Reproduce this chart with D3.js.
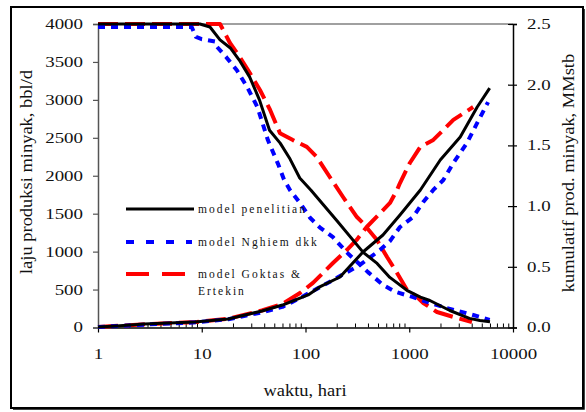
<!DOCTYPE html>
<html>
<head>
<meta charset="utf-8">
<script src="https://cdn.jsdelivr.net/npm/d3@7"></script>
<style>
body { margin: 0; background: #fff; }
text { font-family: 'Liberation Serif', 'Times New Roman', serif; fill: #111; }
</style>
</head>
<body>
<script>
// x ticks (hari) and y ticks
const dayTicks = [1, 10, 100, 1000, 10000];
const rateTicks = [0, 500, 1000, 1500, 2000, 2500, 3000, 3500, 4000];
const cumTicks = [0, 0.5, 1.0, 1.5, 2.0, 2.5];

// model penelitian
const penelitianRateDays = [1, 9.6, 12, 15, 19, 23, 29, 36, 45, 57, 71, 88, 113, 200, 360, 490, 650, 950, 1280, 1580, 2460, 3800, 4800, 6000];
const penelitianRate = [4000, 4000, 3960, 3790, 3680, 3525, 3300, 3000, 2600, 2430, 2220, 1970, 1810, 1410, 990, 845, 660, 490, 400, 356, 224, 120, 92, 75];
const penelitianCumDays = [1, 1.5, 2.8, 8.6, 18, 38, 60, 106, 137, 215, 358, 558, 814, 1280, 1990, 3100, 4520, 5960];
const penelitianCum = [0.004, 0.012, 0.029, 0.045, 0.07, 0.136, 0.185, 0.268, 0.334, 0.416, 0.622, 0.762, 0.927, 1.133, 1.38, 1.569, 1.816, 1.972];

// model Nghiem dkk
const nghiemRateDays = [1, 8, 8.8, 10, 13.4, 14, 17.3, 21.8, 27.4, 34.5, 43.4, 54.6, 62, 71, 88.5, 110, 137, 184, 250, 400, 560, 735, 1090, 1580, 2300, 4130, 5960];
const nghiemRate = [3960, 3960, 3830, 3800, 3770, 3700, 3560, 3390, 3170, 2900, 2470, 2150, 1950, 1810, 1640, 1450, 1320, 1190, 990, 730, 560, 470, 400, 323, 257, 165, 100];
const nghiemCumDays = [1, 3, 9, 18, 38, 60, 88.5, 184, 334, 522, 652, 814, 1090, 1365, 1705, 2130, 2660, 3600, 4520, 5750];
const nghiemCum = [0.004, 0.025, 0.043, 0.068, 0.125, 0.17, 0.243, 0.391, 0.515, 0.638, 0.712, 0.828, 0.91, 1.034, 1.133, 1.215, 1.355, 1.52, 1.685, 1.857];

// model Goktas & Ertekin
const goktasRateDays = [1, 15, 18.7, 23.4, 29.2, 36.4, 45.5, 56.8, 75.6, 103, 128, 172, 230, 313, 358, 489, 611, 763, 953, 1190, 1365, 1850, 2880, 4020];
const goktasRate = [4000, 4000, 3750, 3560, 3350, 3130, 2870, 2560, 2470, 2380, 2250, 1980, 1720, 1456, 1377, 1153, 929, 718, 494, 402, 323, 204, 125, 72];
const goktasCumDays = [1, 3, 9, 18, 38, 60, 88.5, 118, 184, 250, 311, 389, 522, 652, 763, 814, 1013, 1276, 1705, 2130, 2660, 4130];
const goktasCum = [0.004, 0.028, 0.046, 0.073, 0.14, 0.195, 0.284, 0.367, 0.531, 0.638, 0.721, 0.828, 0.94, 1.026, 1.133, 1.19, 1.355, 1.487, 1.545, 1.627, 1.71, 1.816];

const legendLabels = ['model penelitian', 'model Nghiem dkk', ['model Goktas &', 'Ertekin']];

const chartWidth = 586;
const chartHeight = 412;
const plotLeft = 98, plotRight = 513, plotTop = 24, plotBottom = 327.5;

const chart = d3.select('body')
    .append('svg')
    .attr('width', chartWidth)
    .attr('height', chartHeight);

const x = d3.scaleLog().domain([1, 10000]).range([plotLeft, plotRight]);
const yRate = d3.scaleLinear().domain([0, 4000]).range([plotBottom, plotTop]);
const yCum = d3.scaleLinear().domain([0, 2.5]).range([plotBottom, plotTop]);

const black = { color: '#000', width: 3, dash: null };
const blue = { color: '#0000ff', width: 4, dash: '7,6' };
const red = { color: '#ff0000', width: 4, dash: '20,7' };

const series = [
    { days: goktasRateDays, vals: goktasRate, y: yRate, style: red },
    { days: goktasCumDays, vals: goktasCum, y: yCum, style: red },
    { days: nghiemRateDays, vals: nghiemRate, y: yRate, style: blue },
    { days: nghiemCumDays, vals: nghiemCum, y: yCum, style: blue },
    { days: penelitianRateDays, vals: penelitianRate, y: yRate, style: black },
    { days: penelitianCumDays, vals: penelitianCum, y: yCum, style: black },
];

// frame
chart.append('rect')
    .attr('x', 11).attr('y', 7)
    .attr('width', 572).attr('height', 401)
    .attr('fill', 'none')
    .attr('stroke', '#000')
    .attr('stroke-width', 2);
chart.append('path')
    .attr('d', 'M584.5,9V409.5H13')
    .attr('fill', 'none')
    .attr('stroke', '#444')
    .attr('stroke-width', 1);

// top border of plot
chart.append('line')
    .attr('x1', plotLeft).attr('x2', plotRight)
    .attr('y1', plotTop).attr('y2', plotTop)
    .attr('stroke', '#808080')
    .attr('stroke-width', 1.5);

const stretch = 1.35;

// left axis
const gLeft = chart.append('g')
    .attr('transform', `translate(${plotLeft},0)`)
    .call(d3.axisLeft(yRate).tickValues(rateTicks).tickSize(5).tickFormat(d3.format('d')));
gLeft.select('.domain').attr('stroke', '#555').attr('stroke-width', 1.5);
gLeft.selectAll('.tick line').attr('stroke', '#555').attr('stroke-width', 1.2);
gLeft.selectAll('.tick text')
    .attr('x', 0)
    .attr('transform', `translate(-15,0) scale(${stretch},1)`)
    .attr('font-size', 14);
gLeft.attr('font-family', null);

// right axis
const gRight = chart.append('g')
    .attr('transform', `translate(${plotRight},0)`)
    .call(d3.axisRight(yCum).tickValues(cumTicks).tickSize(4).tickFormat(d3.format('.1f')));
gRight.select('.domain').attr('stroke', '#000').attr('stroke-width', 1.5);
gRight.selectAll('.tick line').attr('x1', -5).attr('stroke-width', 1.2);
gRight.selectAll('.tick text')
    .attr('x', 0)
    .attr('transform', `translate(14,0) scale(${stretch},1)`)
    .attr('font-size', 14);
gRight.attr('font-family', null);

// bottom axis: minor ticks point up, major ticks down
const minorTicks = x.ticks().filter(d => !dayTicks.includes(d));
const gMinor = chart.append('g')
    .attr('transform', `translate(0,${plotBottom})`)
    .call(d3.axisBottom(x).tickValues(minorTicks).tickSize(-4).tickFormat(''));
gMinor.select('.domain').remove();
gMinor.selectAll('.tick line').attr('stroke-width', 1);

const gBottom = chart.append('g')
    .attr('transform', `translate(0,${plotBottom})`)
    .call(d3.axisBottom(x).tickValues(dayTicks).tickSize(5).tickSizeOuter(0).tickFormat(d3.format('d')));
gBottom.select('.domain').attr('stroke', '#000').attr('stroke-width', 1.5);
gBottom.selectAll('.tick line').attr('stroke-width', 1.2);
gBottom.selectAll('.tick text')
    .attr('y', 0)
    .attr('transform', `translate(0,22) scale(${stretch},1)`)
    .attr('font-size', 14);
gBottom.attr('font-family', null);

// axis titles
chart.append('text')
    .attr('transform', 'translate(305,396) scale(1.12,1)')
    .attr('text-anchor', 'middle')
    .attr('font-size', 16.5)
    .text('waktu, hari');
chart.append('text')
    .attr('transform', 'translate(32,172) rotate(-90) scale(1.12,1)')
    .attr('text-anchor', 'middle')
    .attr('font-size', 16.5)
    .text('laju produksi minyak, bbl/d');
chart.append('text')
    .attr('transform', 'translate(574,173) rotate(-90) scale(1.12,1)')
    .attr('text-anchor', 'middle')
    .attr('font-size', 16.5)
    .text('kumulatif prod. minyak, MMstb');

// curves
const lines = chart.append('g');
series.forEach(s => {
    const pts = s.days.map((d, i) => [d, s.vals[i]]);
    const line = d3.line()
        .x(d => x(d[0]))
        .y(d => s.y(d[1]));
    lines.append('path')
        .datum(pts)
        .attr('d', line)
        .attr('fill', 'none')
        .attr('stroke', s.style.color)
        .attr('stroke-width', s.style.width)
        .attr('stroke-dasharray', s.style.dash)
        .attr('stroke-linejoin', 'round');
});

// legend
const legend = chart.append('g');
const legendRows = [
    { y: 209, style: black, dash: null, x2: 194 },
    { y: 242, style: blue, dash: '8,12', x2: 192 },
    { y: 274, style: red, dash: '23,13', x2: 186 },
];
legendRows.forEach((r, i) => {
    legend.append('line')
        .attr('x1', 126).attr('x2', r.x2)
        .attr('y1', r.y).attr('y2', r.y)
        .attr('stroke', r.style.color)
        .attr('stroke-width', r.style.width)
        .attr('stroke-dasharray', r.dash);
    const label = legendLabels[i];
    const t = legend.append('text')
        .attr('x', 198)
        .attr('y', r.y + 3.5)
        .attr('font-size', 11.5)
        .attr('letter-spacing', 2)
        .attr('fill', '#222');
    if (Array.isArray(label)) {
        label.forEach((l, j) => t.append('tspan')
            .attr('x', 198)
            .attr('dy', j === 0 ? 0 : 17)
            .text(l));
    } else {
        t.text(label);
    }
});
</script>
</body>
</html>
